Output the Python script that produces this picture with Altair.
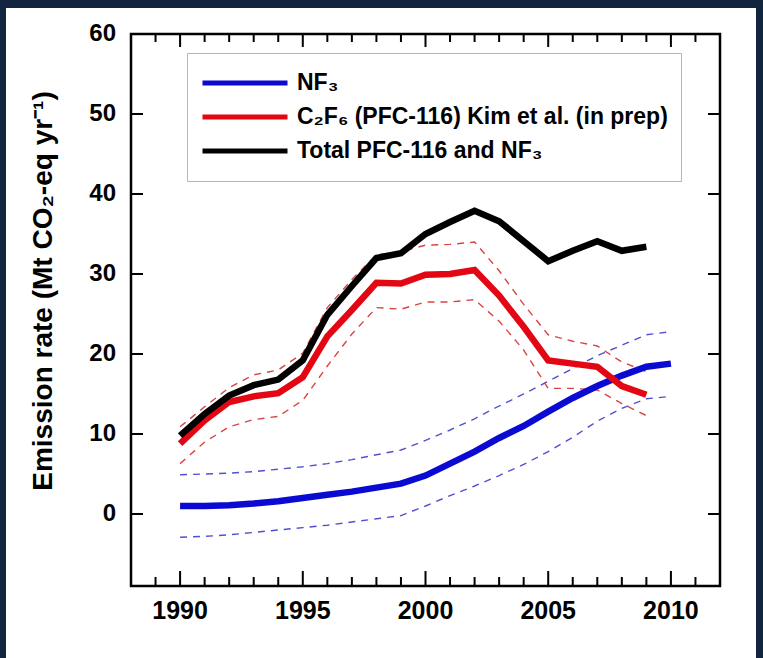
import altair as alt
import pandas as pd

# ---------------- data ----------------
years = list(range(1990, 2011))
years_pfc = list(range(1990, 2010))

nf3 = [1.0, 1.0, 1.1, 1.3, 1.6, 2.0, 2.4, 2.8, 3.3, 3.8, 4.8,
       6.3, 7.8, 9.5, 11.0, 12.8, 14.5, 16.0, 17.3, 18.4, 18.8]
nf3_hi = [4.9, 5.0, 5.1, 5.3, 5.6, 5.9, 6.3, 6.8, 7.4, 8.0, 9.2,
          10.5, 11.9, 13.5, 15.0, 16.6, 18.2, 19.8, 21.1, 22.4, 22.8]
nf3_lo = [-2.9, -2.8, -2.6, -2.3, -2.0, -1.7, -1.4, -1.0, -0.6, -0.2, 1.0,
          2.3, 3.5, 4.8, 6.2, 7.8, 9.6, 11.6, 13.2, 14.4, 14.7]

c2f6 = [8.8, 11.7, 14.0, 14.7, 15.1, 17.1, 22.2, 25.5, 28.9, 28.8,
        29.9, 30.0, 30.5, 27.3, 23.4, 19.2, 18.8, 18.4, 16.0, 14.9]
c2f6_hi = [10.9, 13.4, 15.8, 17.4, 18.0, 20.1, 25.8, 29.3, 32.4, 32.8,
           33.6, 33.7, 34.0, 30.4, 26.2, 22.4, 21.6, 21.0, 19.0, 17.8]
c2f6_lo = [6.3, 9.0, 10.9, 11.8, 12.2, 14.2, 18.5, 22.5, 25.8, 25.6,
           26.5, 26.5, 26.8, 24.1, 20.5, 15.7, 15.7, 15.5, 13.8, 12.3]

total = [9.8, 12.5, 14.8, 16.1, 16.8, 19.2, 24.9, 28.5, 32.0, 32.6,
         35.0, 36.5, 37.9, 36.6, 34.1, 31.6, 32.9, 34.1, 32.9, 33.4]

series_names = ["NF₃", "C₂F₆ (PFC-116) Kim et al. (in prep)", "Total PFC-116 and NF₃"]
series_colors = ["#0a0ad2", "#e30613", "#000000"]

x_major = [1990, 1995, 2000, 2005, 2010]
x_minor = [1989, 1991, 1992, 1993, 1994, 1996, 1997, 1998, 1999, 2001,
           2002, 2003, 2004, 2006, 2007, 2008, 2009, 2011]
y_ticks = [0, 10, 20, 30, 40, 50, 60]
x_tick_labels = ["1990", "1995", "2000", "2005", "2010"]
y_tick_labels = ["0", "10", "20", "30", "40", "50", "60"]
y_title = "Emission rate (Mt CO₂-eq yr⁻¹)"

# ---------------- tables ----------------
main_df = pd.concat([
    pd.DataFrame({"year": years, "value": nf3, "series": series_names[0]}),
    pd.DataFrame({"year": years_pfc, "value": c2f6, "series": series_names[1]}),
    pd.DataFrame({"year": years_pfc, "value": total, "series": series_names[2]}),
], ignore_index=True)

blue_band = pd.concat([
    pd.DataFrame({"year": years, "value": nf3_lo, "bound": "lower"}),
    pd.DataFrame({"year": years, "value": nf3_hi, "bound": "upper"}),
], ignore_index=True)

red_band = pd.concat([
    pd.DataFrame({"year": years_pfc, "value": c2f6_lo, "bound": "lower"}),
    pd.DataFrame({"year": years_pfc, "value": c2f6_hi, "bound": "upper"}),
], ignore_index=True)

major_df = pd.DataFrame({"year": x_major})
minor_df = pd.DataFrame({"year": x_minor})
ytick_df = pd.DataFrame({"value": y_ticks})
xlab_df = pd.DataFrame({"year": x_major, "label": x_tick_labels})
ylab_df = pd.DataFrame({"value": y_ticks, "label": y_tick_labels})

FONT = "Liberation Sans"
NAVY = "#13243f"
W, H = 589, 552

x_scale = alt.Scale(domain=[1988, 2012], nice=False, zero=False)
y_scale = alt.Scale(domain=[-9, 60], nice=False, zero=False)

X = alt.X("year:Q", scale=x_scale, axis=None)
Y = alt.Y("value:Q", scale=y_scale, axis=None)

# navy page edges around the white figure (decoration)
edge_top = alt.Chart(alt.Data(values=[{}])).mark_rect(color=NAVY).encode(
    x=alt.value(-131), x2=alt.value(632), y=alt.value(-34), y2=alt.value(-26)
)
edge_left = alt.Chart(alt.Data(values=[{}])).mark_rect(color=NAVY).encode(
    x=alt.value(-131), x2=alt.value(-125), y=alt.value(-34), y2=alt.value(624)
)
edge_right = alt.Chart(alt.Data(values=[{}])).mark_rect(color=NAVY).encode(
    x=alt.value(625), x2=alt.value(632), y=alt.value(-34), y2=alt.value(624)
)

# inward tick marks on all four sides (drawn as tick marks)
def xticks(df, yc, length):
    return alt.Chart(df).mark_tick(
        color="black", orient="vertical", size=length, thickness=2, opacity=1
    ).encode(x=X, y=alt.value(yc))

def yticks(xc):
    return alt.Chart(ytick_df).mark_tick(
        color="black", orient="horizontal", size=12, thickness=2, opacity=1
    ).encode(y=Y, x=alt.value(xc))

tick_layers = [
    xticks(major_df, H - 7.5, 15), xticks(minor_df, H - 4.5, 9),
    xticks(major_df, 6.5, 13), xticks(minor_df, 4, 8),
    yticks(6), yticks(W - 6),
]

# tick labels and axis title
x_labels = alt.Chart(xlab_df).mark_text(
    font=FONT, fontWeight="bold", fontSize=25, color="black", baseline="middle"
).encode(x=X, y=alt.value(H + 25), text="label:N")

y_labels = alt.Chart(ylab_df).mark_text(
    font=FONT, fontWeight="bold", fontSize=24, color="black",
    align="right", baseline="middle"
).encode(y=Y, x=alt.value(-15), text="label:N")

y_title_mark = alt.Chart(alt.Data(values=[{"t": y_title}])).mark_text(
    font=FONT, fontWeight="bold", fontSize=28, color="black",
    angle=270, align="center", baseline="middle"
).encode(x=alt.value(-87), y=alt.value(257), text="t:N")

blue_dash = alt.Chart(blue_band).mark_line(
    color="#5050d0", strokeWidth=1.4, strokeDash=[7, 6]
).encode(x=X, y=Y, detail="bound:N")

red_dash = alt.Chart(red_band).mark_line(
    color="#d94545", strokeWidth=1.4, strokeDash=[7, 6]
).encode(x=X, y=Y, detail="bound:N")

lines = alt.Chart(main_df).mark_line(strokeWidth=6.5, strokeJoin="miter").encode(
    x=X, y=Y,
    color=alt.Color(
        "series:N",
        scale=alt.Scale(domain=series_names, range=series_colors),
        legend=alt.Legend(
            orient="none", legendX=56, legendY=19, title=None,
            symbolType="stroke", symbolSize=7225, symbolStrokeWidth=5,
            clipHeight=34, rowPadding=0,
            labelFont=FONT, labelFontWeight="bold", labelFontSize=23,
            labelColor="black", labelOffset=7, labelLimit=0,
            padding=13, strokeColor="#b5b5b5", fillColor="white",
        ),
    ),
)

chart = alt.layer(
    edge_top, edge_left, edge_right,
    x_labels, y_labels, y_title_mark,
    blue_dash, red_dash, lines,
    *tick_layers,
).properties(
    width=W, height=H,
    padding={"left": 131, "top": 34, "right": 43, "bottom": 72},
    autosize=alt.AutoSizeParams(type="none"),
    background="white",
).configure_view(stroke="black", strokeWidth=2.5)

chart.save("out.html", embed_options={"renderer": "svg", "actions": False})
